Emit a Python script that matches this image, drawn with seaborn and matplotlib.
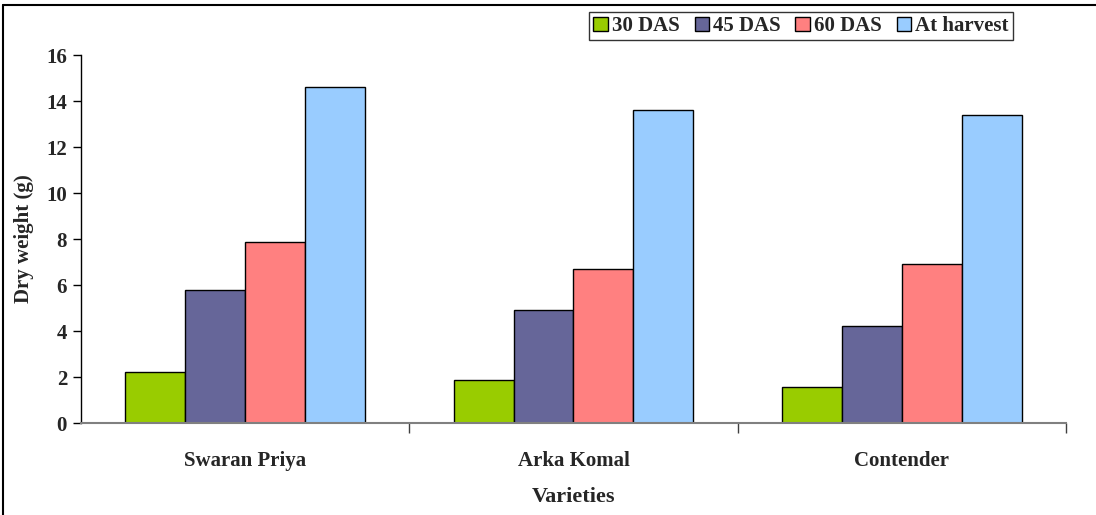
import pandas as pd
import seaborn as sns
import matplotlib.pyplot as plt
from matplotlib.lines import Line2D
from matplotlib.ticker import FixedLocator

# chart data
varieties = ["Swaran Priya", "Arka Komal", "Contender"]
stages = ["30 DAS", "45 DAS", "60 DAS", "At harvest"]
das_30 = [2.2, 1.85, 1.55]
das_45 = [5.78, 4.9, 4.2]
das_60 = [7.87, 6.7, 6.92]
harvest = [14.6, 13.6, 13.4]
colors = ["#99CC00", "#666699", "#FF8080", "#99CCFF"]

# long format for seaborn
df = pd.DataFrame({"variety": varieties, "30 DAS": das_30, "45 DAS": das_45,
                   "60 DAS": das_60, "At harvest": harvest})
df = df.melt(id_vars="variety", var_name="stage", value_name="weight")

sns.set_style("white")
plt.rcParams["font.family"] = ["Liberation Serif", "DejaVu Serif"]
plt.rcParams["font.weight"] = "bold"

fig = plt.figure(figsize=(10.96, 5.15), dpi=100)
ax = fig.add_axes([0.0739, 0.1786, 0.8987, 0.7146])

sns.barplot(data=df, x="variety", y="weight", hue="stage", hue_order=stages,
            order=varieties, palette=colors, width=0.73, edgecolor="black",
            linewidth=1, saturation=1, ax=ax)

ax.set_ylim(0, 16)
ax.set_xlim(-0.5, 2.5)
ax.set_yticks(range(0, 17, 2))
ax.tick_params(axis="y", labelsize=15, length=6, width=1, color="black",
               direction="out", left=True, pad=4)
ax.tick_params(axis="x", which="major", labelsize=15, length=0, pad=20)
ax.xaxis.set_minor_locator(FixedLocator([0.5, 1.5, 2.5]))
ax.tick_params(axis="x", which="minor", length=7, width=1, color="#404040",
               direction="out", bottom=True)
for lab in ax.get_xticklabels() + ax.get_yticklabels():
    lab.set_fontweight("bold")

ax.set_xlabel("Varieties", fontsize=16, fontweight="bold", labelpad=12)
ax.set_ylabel("Dry weight (g)", fontsize=15, fontweight="bold", labelpad=9)

sns.despine(ax=ax)
ax.spines["left"].set_color("black")
ax.spines["left"].set_linewidth(1)
ax.spines["bottom"].set_color("#808080")
ax.spines["bottom"].set_linewidth(1.5)

leg = ax.legend(title=None, loc="upper right", bbox_to_anchor=(1013 / 1096, 1 - 12 / 515),
                bbox_transform=fig.transFigure, ncol=4, frameon=True, fancybox=False,
                edgecolor="black", fontsize=15, handlelength=0.7, handleheight=0.7,
                handletextpad=0.2, columnspacing=0.7, borderpad=0.2, borderaxespad=0)
leg.get_frame().set_linewidth(1)
for t in leg.get_texts():
    t.set_fontweight("bold")
for h in leg.legend_handles:
    h.set_edgecolor("black")
    h.set_linewidth(1)

# outer frame lines (left and top)
fig.add_artist(Line2D([2.5 / 1096, 2.5 / 1096], [0, 1 - 4.5 / 515], color="black", lw=1.5))
fig.add_artist(Line2D([2.5 / 1096, 1], [1 - 4.5 / 515, 1 - 4.5 / 515], color="black", lw=1.5))

fig.savefig("out.png", dpi=100)
